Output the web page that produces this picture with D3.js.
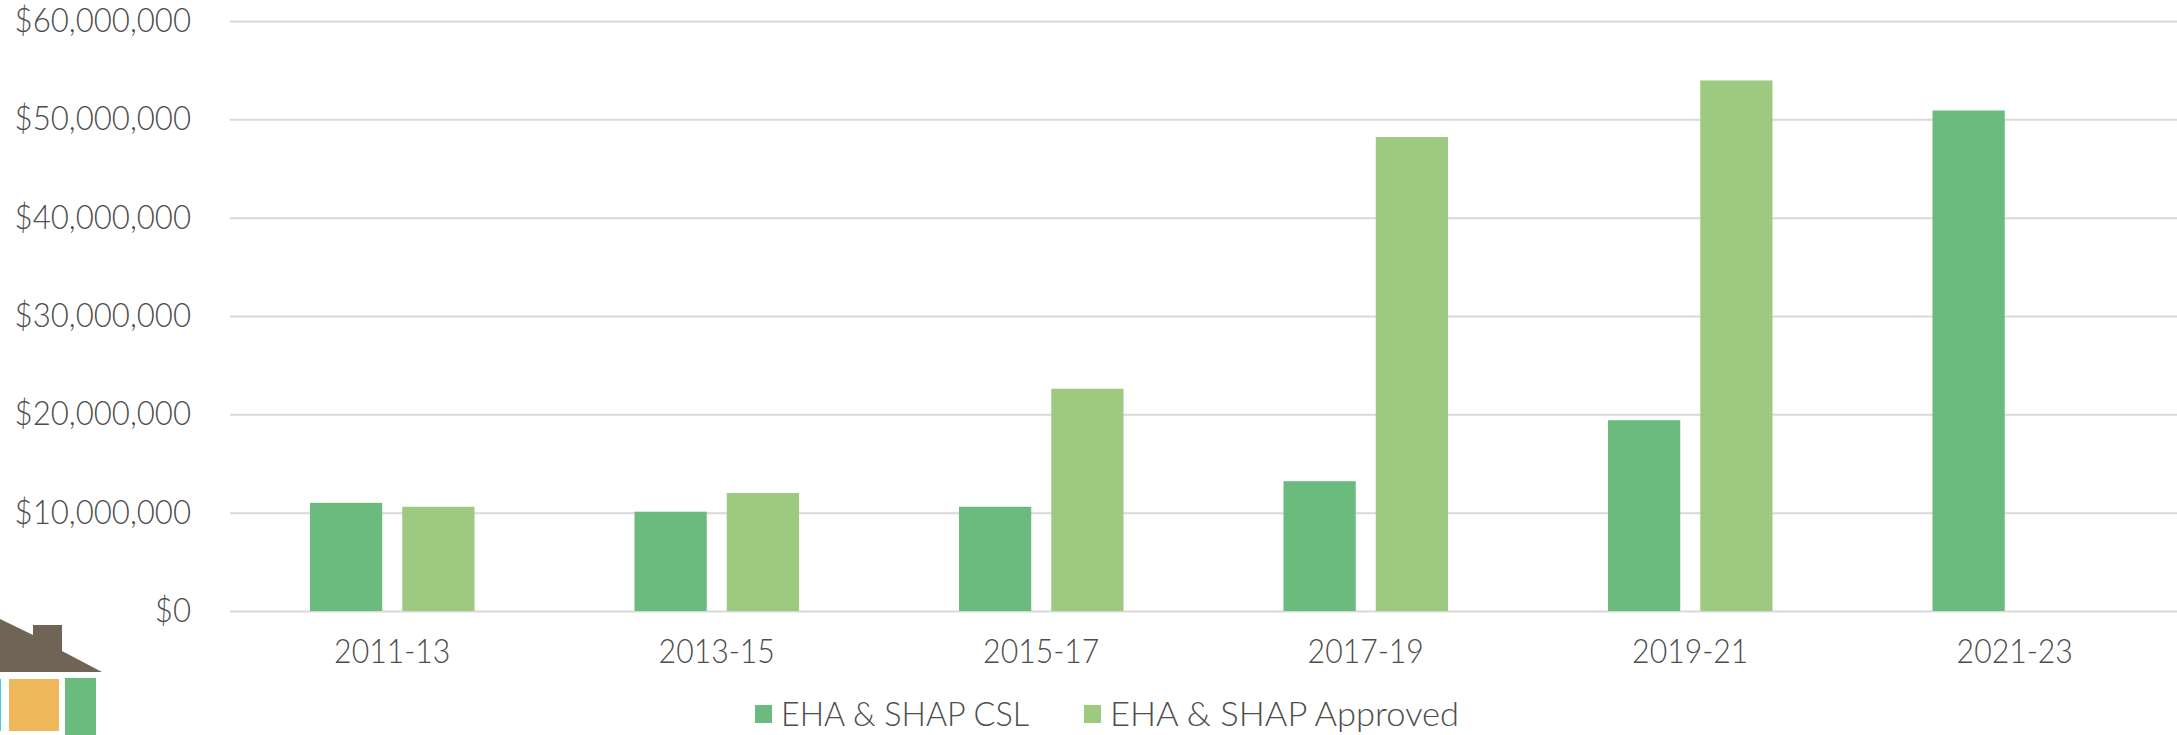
<!DOCTYPE html>
<html>
<head>
<meta charset="utf-8">
<script src="https://cdn.jsdelivr.net/npm/d3@7"></script>
<style>
html, body { margin: 0; padding: 0; background: #fff; overflow: hidden; }
svg { display: block; }
text { font-family: Lato, sans-serif; font-weight: 300; fill: #4d4d4d; }
.axis .domain { display: none; }
.axis text { fill: #4d4d4d; }
.grid line { stroke: #d9d9d9; stroke-width: 2; }
</style>
</head>
<body>
<script>
const width = 2177, height = 735;

const periods = ['2011-13', '2013-15', '2015-17', '2017-19', '2019-21', '2021-23'];
const seriesNames = ['EHA & SHAP CSL', 'EHA & SHAP Approved'];
const cslValues = [11000000, 10100000, 10600000, 13200000, 19400000, 50900000];
const approvedValues = [10600000, 12000000, 22600000, 48200000, 53950000, null];
const yTicks = [0, 10000000, 20000000, 30000000, 40000000, 50000000, 60000000];
const colors = ['#6bbb7f', '#9dca80'];

const svg = d3.select('body').append('svg').attr('width', width).attr('height', height);

const x = d3.scaleBand().domain(periods).range([230, 2177]);
const inner = d3.scaleBand().domain(seriesNames).range([80, 244.5]).paddingInner(0.217);
const y = d3.scaleLinear().domain([0, 60000000]).range([611, 21]);

// the reference font runs narrower than Lato, so squeeze the labels to its width
function squeeze(sel, ratio) {
    sel.each(function() {
        d3.select(this)
            .attr('textLength', this.getComputedTextLength() * ratio)
            .attr('lengthAdjust', 'spacingAndGlyphs');
    });
}

// gridlines and y labels
const yAxis = svg.append('g')
    .attr('class', 'axis grid')
    .attr('transform', 'translate(230,0)')
    .call(d3.axisLeft(y).tickValues(yTicks).tickSize(-(width - 230)).tickPadding(39)
        .tickFormat(d => '$' + d3.format(',')(d)));
yAxis.selectAll('text').attr('font-size', 33).attr('dy', '0.32em').call(squeeze, 0.945);

// bars
[cslValues, approvedValues].forEach((values, i) => {
    svg.append('g').selectAll('rect')
        .data(values.map((v, j) => ({ period: periods[j], value: v })).filter(d => d.value !== null))
        .join('rect')
        .attr('x', d => x(d.period) + inner(seriesNames[i]))
        .attr('y', d => y(d.value))
        .attr('width', inner.bandwidth())
        .attr('height', d => y(0) - y(d.value))
        .attr('fill', colors[i]);
});

// x labels
const xAxis = svg.append('g')
    .attr('class', 'axis')
    .attr('transform', 'translate(0,611)')
    .call(d3.axisBottom(x).tickSize(0).tickPadding(28.5));
xAxis.selectAll('text').attr('font-size', 33).call(squeeze, 0.915);

// legend
const legendX = [755, 1084];
const legendLen = [248, 349];
seriesNames.forEach((name, i) => {
    svg.append('rect').attr('x', legendX[i]).attr('y', 705).attr('width', 17).attr('height', 18).attr('fill', colors[i]);
    svg.append('text').attr('x', legendX[i] + 26).attr('y', 726)
        .attr('font-size', 33)
        .attr('textLength', legendLen[i]).attr('lengthAdjust', 'spacingAndGlyphs')
        .text(name);
});

// house logo, cut off by the corner of the picture
const logo = svg.append('g');
logo.append('polygon').attr('points', '0,619 33,635 33,625 62,625 62,651 102,672 0,672').attr('fill', '#6f6455');
logo.append('rect').attr('x', 0).attr('y', 679).attr('width', 1).attr('height', 52).attr('fill', '#3fd0dc');
logo.append('rect').attr('x', 9).attr('y', 679).attr('width', 50).attr('height', 52).attr('fill', '#efb85a');
logo.append('rect').attr('x', 65).attr('y', 678).attr('width', 31).attr('height', 57).attr('fill', '#6bbb7f');
</script>
</body>
</html>
